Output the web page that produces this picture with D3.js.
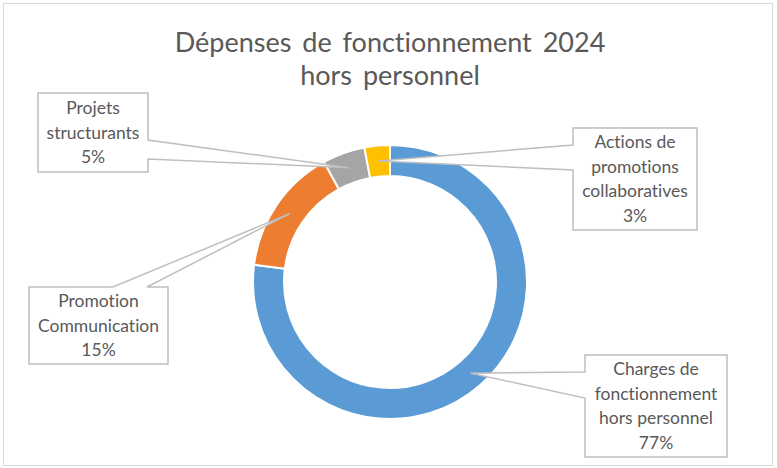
<!DOCTYPE html>
<html>
<head>
<meta charset="utf-8">
<script src="https://cdn.jsdelivr.net/npm/d3@7"></script>
<style>
  body { margin: 0; background: #fff; }
  text { font-family: Lato, "Open Sans", sans-serif; fill: #595959; font-variant-ligatures: none; }
</style>
</head>
<body>
<div id="chart"></div>
<script>
var categories = ["Charges de fonctionnement hors personnel", "Promotion Communication", "Projets structurants", "Actions de promotions collaboratives"];
var values = [77, 15, 5, 3];
var labelLines = [
  ["Charges de", "fonctionnement", "hors personnel", "77%"],
  ["Promotion", "Communication", "15%"],
  ["Projets", "structurants", "5%"],
  ["Actions de", "promotions", "collaboratives", "3%"]
];
var colors = ["#5B9BD5", "#ED7D31", "#A5A5A5", "#FFC000"];

var width = 777,
    height = 468;

// callout boxes: x0, y0, x1, y1, which edge the pointer leaves from, and span on that edge
var boxes = [
  { x0: 585, y0: 355, x1: 727, y1: 457, edge: "left",  a: 372, b: 398 },
  { x0: 29,  y0: 287, x1: 168, y1: 364, edge: "top",   a: 113, b: 147 },
  { x0: 38,  y0: 93,  x1: 148, y1: 172, edge: "right", a: 140, b: 159 },
  { x0: 573, y0: 128, x1: 697, y1: 230, edge: "left",  a: 145, b: 170 }
];

var svg = d3.select("#chart").append("svg")
    .attr("width", width)
    .attr("height", height);

// chart area border
svg.append("rect")
    .attr("x", 3.5).attr("y", 3.5)
    .attr("width", 769).attr("height", 462)
    .attr("fill", "#fff")
    .attr("stroke", "#d9d9d9");

// title
var title = svg.append("text")
    .attr("text-anchor", "middle")
    .style("font-size", "27px")
    .style("word-spacing", "4px");
title.append("tspan").attr("x", 390).attr("y", 52).text("Dépenses de fonctionnement 2024");
title.append("tspan").attr("x", 390).attr("y", 85).text("hors personnel");

var cx = 390, cy = 282;

var pie = d3.pie().sort(null).value(function(d) { return d; });
var arc = d3.arc().innerRadius(106).outerRadius(137);

var g = svg.append("g")
    .attr("transform", "translate(" + cx + "," + cy + ")");

var arcs = pie(values);

g.selectAll("path")
    .data(arcs)
  .enter().append("path")
    .attr("d", arc)
    .attr("fill", function(d, i) { return colors[i]; })
    .attr("stroke", "#fff")
    .attr("stroke-width", 2);

// callouts
function calloutPath(b, tx, ty) {
  if (b.edge == "right") {
    return "M" + b.x0 + "," + b.y0 + "H" + b.x1 + "V" + b.a + "L" + tx + "," + ty +
      "L" + b.x1 + "," + b.b + "V" + b.y1 + "H" + b.x0 + "Z";
  }
  if (b.edge == "left") {
    return "M" + b.x0 + "," + b.y0 + "H" + b.x1 + "V" + b.y1 + "H" + b.x0 +
      "V" + b.b + "L" + tx + "," + ty + "L" + b.x0 + "," + b.a + "Z";
  }
  // top
  return "M" + b.x0 + "," + b.y0 + "H" + b.a + "L" + tx + "," + ty + "L" + b.b + "," + b.y0 +
    "H" + b.x1 + "V" + b.y1 + "H" + b.x0 + "Z";
}

var callouts = svg.selectAll("g.callout")
    .data(arcs)
  .enter().append("g")
    .attr("class", "callout");

callouts.append("path")
    .attr("d", function(d, i) {
      var c = arc.centroid(d);
      return calloutPath(boxes[i], cx + c[0], cy + c[1]);
    })
    .attr("fill", "#fff")
    .attr("stroke", "#bfbfbf")
    .attr("stroke-width", 1.5)
    .attr("stroke-linejoin", "miter");

callouts.each(function(d, i) {
  var b = boxes[i];
  var lines = labelLines[i];
  var lh = 24.5;
  var midY = (b.y0 + b.y1) / 2;
  var startY = midY - (lines.length - 1) * lh / 2 + 6;
  var t = d3.select(this).append("text")
      .attr("text-anchor", "middle")
      .style("font-size", "17.5px");
  t.selectAll("tspan")
      .data(lines)
    .enter().append("tspan")
      .attr("x", (b.x0 + b.x1) / 2)
      .attr("y", function(l, j) { return startY + j * lh; })
      .text(function(l) { return l; });
});
</script>
</body>
</html>
